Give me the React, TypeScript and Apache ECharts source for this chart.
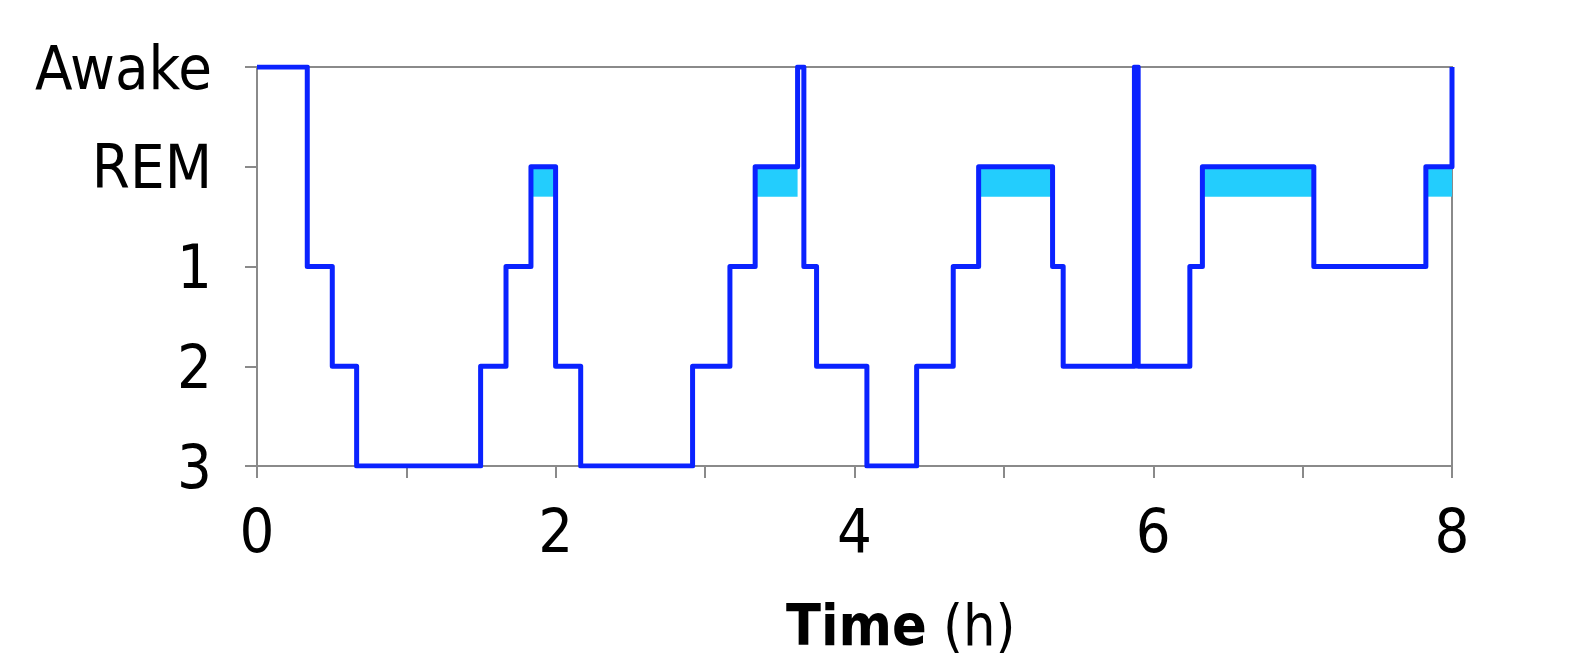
import * as echarts from "echarts";
import { useEffect, useRef } from "react";

// stage levels, bottom to top: 3, 2, 1, REM, Awake
const stageLabels = ["3", "2", "1", "REM", "Awake"];
const xTicks = [0, 1, 2, 3, 4, 5, 6, 7, 8];

// start time (h) of each stage segment
const times = [
    0, 0.3365, 0.504, 0.667, 1.497, 1.667, 1.834, 1.999, 2.167, 2.916, 3.166, 3.335, 3.619, 3.661,
    3.746, 4.083, 4.416, 4.661, 4.831, 5.326, 5.397, 5.874, 5.899, 6.245, 6.329, 7.075, 7.825, 8.0
];
const stages = [
    "Awake", "1", "2", "3", "2", "1", "REM", "2", "3", "2", "1", "REM", "Awake", "1",
    "2", "3", "2", "1", "REM", "1", "2", "Awake", "2", "1", "REM", "1", "REM", "Awake"
];

const FONT = '"DejaVu Sans Condensed", "DejaVu Sans", Verdana, sans-serif';

export default function App() {
    const chartRef = useRef<HTMLDivElement>(null);

    useEffect(() => {
        if (!chartRef.current) return;
        const chart = echarts.init(chartRef.current, undefined, { renderer: "svg" });

        const points = times.map((t, i) => [t, stageLabels.indexOf(stages[i])]);
        // light band under each REM segment
        const remAreas: any[] = [];
        stages.forEach((s, i) => {
            if (s === "REM" && i + 1 < times.length) {
                remAreas.push([
                    { xAxis: times[i], yAxis: 3 },
                    { xAxis: times[i + 1], yAxis: 2.7 }
                ]);
            }
        });

        const option: echarts.EChartsOption = {
            animation: false,
            grid: {
                left: 257,
                right: 122,
                top: 67,
                bottom: 194,
                show: true,
                borderColor: "#8a8a8a",
                borderWidth: 2,
                backgroundColor: "transparent"
            },
            xAxis: {
                type: "value",
                min: xTicks[0],
                max: xTicks[xTicks.length - 1],
                interval: 1,
                axisLine: { lineStyle: { color: "#8a8a8a", width: 2 } },
                axisTick: { show: true, length: 12, lineStyle: { color: "#8a8a8a", width: 2 } },
                splitLine: { show: false },
                axisLabel: {
                    margin: 34,
                    fontSize: 61,
                    fontFamily: FONT,
                    color: "#000",
                    formatter: (v: number) => (v % 2 === 0 ? String(v) : "")
                }
            },
            yAxis: {
                type: "value",
                min: 0,
                max: stageLabels.length - 1,
                interval: 1,
                axisLine: { show: true, lineStyle: { color: "#8a8a8a", width: 2 } },
                axisTick: { show: true, length: 12, lineStyle: { color: "#8a8a8a", width: 2 } },
                splitLine: { show: false },
                axisLabel: {
                    margin: 45,
                    fontSize: 61,
                    fontFamily: FONT,
                    color: "#000",
                    formatter: (v: number) => stageLabels[v] ?? ""
                }
            },
            graphic: [
                {
                    type: "text",
                    left: 786,
                    top: 596,
                    style: {
                        text: "{b|Time}{n| (h)}",
                        rich: {
                            b: { fontSize: 57, fontWeight: "bold", fontFamily: FONT, fill: "#000" },
                            n: { fontSize: 57, fontFamily: FONT, fill: "#000" }
                        }
                    } as any
                }
            ],
            series: [
                {
                    type: "line",
                    step: "end",
                    data: points,
                    showSymbol: false,
                    symbol: "none",
                    lineStyle: { color: "#0a22ff", width: 5, join: "round" } as any,
                    markArea: {
                        silent: true,
                        itemStyle: { color: "#23cdfd", opacity: 1 },
                        data: remAreas
                    },
                    z: 3
                }
            ]
        };

        chart.setOption(option);
        return () => {
            chart.dispose();
        };
    }, []);

    return (
        <div
            ref={chartRef}
            style={{ position: "fixed", left: 0, top: 0, width: 1574, height: 660, background: "#fff" }}
        />
    );
}
